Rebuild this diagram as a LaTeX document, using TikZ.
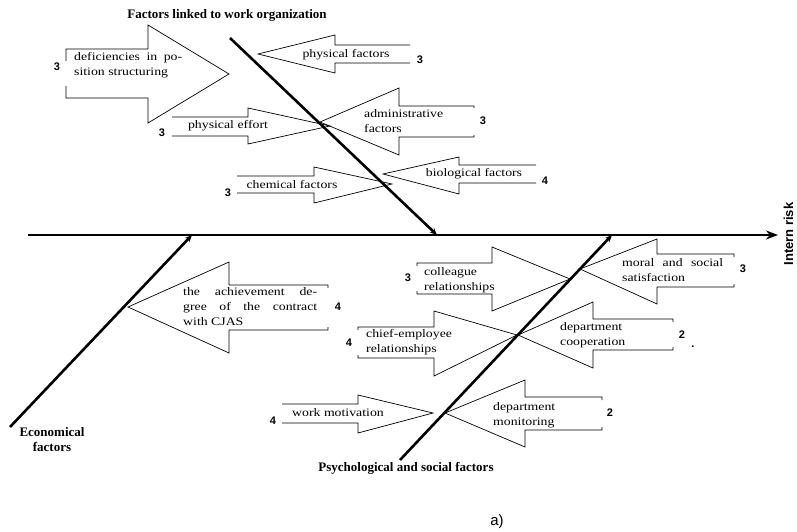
\documentclass[tikz,border=0pt]{standalone}
\usepackage{fontspec}
\setmainfont{Liberation Serif}
\newfontfamily\boxfont[FakeStretch=1.2]{Liberation Serif}
\newfontfamily\numfont{Liberation Sans}
\usetikzlibrary{arrows.meta}
\newcommand{\blockarrow}[9][0]{%
  \draw[box] ({#2},{#3+#1})--(#2,#3)--(#5,#3)--(#5,#6)--(#8,#9)--(#5,#7)--(#5,#4)--(#2,#4)--({#2},{#4-#1});}
\begin{document}
\begin{tikzpicture}[x=1pt,y=-1pt,line cap=butt,line join=miter]
		\tikzset{spine/.style={line width=2.6pt,-{Stealth[length=12pt,width=9pt]}},
			bone/.style={line width=2.6pt,-{Stealth[length=7pt,width=6pt]}},
			box/.style={line width=0.7pt},
			boxtext/.style={font=\boxfont\fontsize{11.5}{15}\selectfont,inner sep=0pt,align=left},
			score/.style={font=\numfont\bfseries\fontsize{11}{13}\selectfont,inner sep=0pt},
			title/.style={font=\bfseries\fontsize{13}{15}\selectfont,inner sep=0pt,align=center}}
		\useasboundingbox (0,0) rectangle (797,532);
		\coordinate (tail) at (28,235);
		\coordinate (head) at (778,235);
		\coordinate (orgstart) at (230,38);
		\coordinate (orgend) at (437,235);
		\coordinate (ecostart) at (10,427);
		\coordinate (ecoend) at (192,235);
		\coordinate (psystart) at (400,460);
		\coordinate (psyend) at (612,235);
		\draw[spine] (tail)--(head);
		\draw[bone] (orgstart)--(orgend);
		\draw[bone] (ecostart)--(ecoend);
		\draw[bone] (psystart)--(psyend);
		\node[rotate=90,font=\numfont\bfseries\fontsize{13}{15}\selectfont,inner sep=0pt] (risk) at (788.5,234){Intern risk};
		\node[title] (org) at (227,15){Factors linked to work organization};
		\node[title] (eco) at (52,440){Economical\\factors};
		\node[title] (psy) at (406,468){Psychological and social factors};
		\node[font=\numfont\fontsize{15}{17}\selectfont,inner sep=0pt] (fig) at (497,522){a)};
		\blockarrow[12]{66}{49}{98}{148}{25}{123}{229}{74}
		\blockarrow{410}{45}{63}{335}{35}{73}{258}{54}
		\blockarrow{172}{117}{136}{248}{108}{144}{330}{126}
		\blockarrow[2]{474}{106}{137}{399}{88}{155}{320}{122}
		\blockarrow{237}{176}{193}{314}{167}{203}{392}{184}
		\blockarrow{536}{165}{183}{459}{157}{194}{383}{174}
		\blockarrow[3]{328}{285}{330}{229}{262}{353}{128}{307}
		\blockarrow{282}{404}{423}{358}{395}{433}{433}{413}
		\blockarrow[3]{417}{263}{294}{492}{247}{311}{570}{279}
		\blockarrow[3]{734}{254}{287}{657}{239}{304}{580}{269}
		\blockarrow[3]{358}{327}{358}{434}{311}{376}{517}{335}
		\blockarrow[3]{673}{319}{350}{593}{302}{368}{518}{335}
		\blockarrow[3]{602}{397}{430}{525}{380}{447}{445}{413}
		\node[boxtext,anchor=west] (position) at (74,65){\makebox[108pt][s]{deficiencies in po-}\\sition structuring};
		\node[boxtext] (physical) at (346,55){physical factors};
		\node[boxtext] (effort) at (228,126){physical effort};
		\node[boxtext,anchor=west] (admin) at (364,121){administrative\\factors};
		\node[boxtext] (chemical) at (292,185){chemical factors};
		\node[boxtext] (biological) at (474,174){biological factors};
		\node[boxtext,anchor=west] (contract) at (183,307){\makebox[134pt][s]{the achievement de-}\\\makebox[134pt][s]{gree of the contract}\\with CJAS};
		\node[boxtext] (motivation) at (338,413){work motivation};
		\node[boxtext,anchor=west] (colleague) at (424,280){colleague\\relationships};
		\node[boxtext,anchor=west] (moral) at (622,270){\makebox[101pt][s]{moral and social}\\satisfaction};
		\node[boxtext,anchor=west] (chief) at (366,342){chief-employee\\relationships};
		\node[boxtext,anchor=west] (cooperation) at (560,335){department\\cooperation};
		\node[boxtext,anchor=west] (monitoring) at (493,415){department\\monitoring};
		\node[score] (s1) at (57,67){3};
		\node[score] (s2) at (420,60){3};
		\node[score] (s3) at (162,133){3};
		\node[score] (s4) at (483,121){3};
		\node[score] (s5) at (228,193){3};
		\node[score] (s6) at (545,181){4};
		\node[score] (s7) at (338,307){4};
		\node[score] (s8) at (273,421){4};
		\node[score] (s9) at (408,278){3};
		\node[score] (s10) at (743,269){3};
		\node[score] (s11) at (349,343){4};
		\node[score] (s12) at (682,335){2};
		\node[score] (dot) at (693,347){.};
		\node[score] (s13) at (610,413){2};
\end{tikzpicture}
\end{document}
